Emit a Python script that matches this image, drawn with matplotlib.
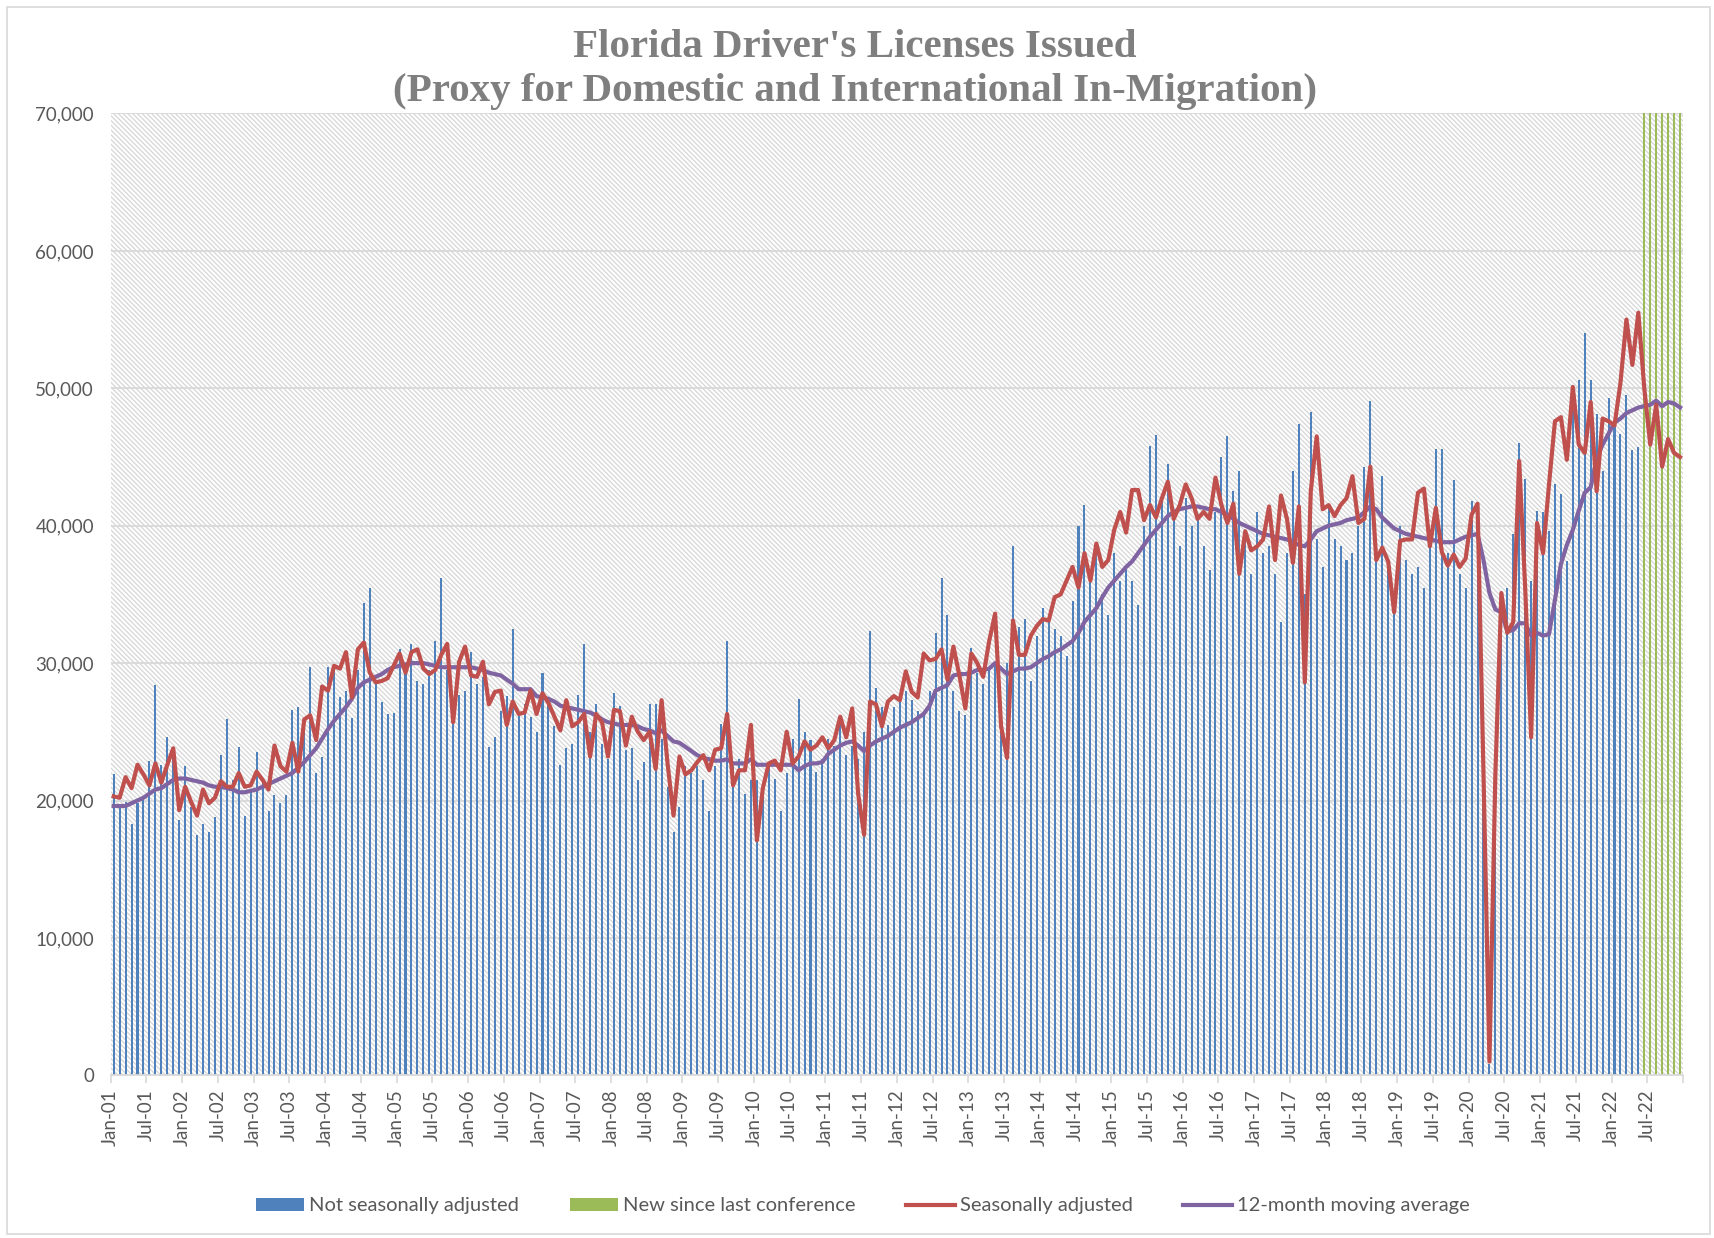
import matplotlib
matplotlib.use("Agg")
import matplotlib.pyplot as plt
from matplotlib.patches import Rectangle, Patch
from matplotlib.lines import Line2D
from matplotlib.ticker import FuncFormatter
import numpy as np

# ---------------- data (thousands) ----------------
years = list(range(2001, 2023))
months = ["Jan", "Feb", "Mar", "Apr", "May", "Jun", "Jul", "Aug", "Sep", "Oct", "Nov", "Dec"]

# Not seasonally adjusted (Jan-01 .. May-22)
nsa_k = [
    21.9, 19.5, 19.9, 18.3, 19.8, 20.3, 22.9, 28.4, 22.6, 24.6, 23.8, 18.6,
    22.5, 19.5, 17.5, 18.3, 17.7, 18.8, 23.3, 25.9, 21.5, 23.9, 18.9, 20.8,
    23.5, 21.5, 19.2, 20.4, 19.8, 20.4, 26.6, 26.8, 25.9, 29.7, 22.0, 23.2,
    29.7, 29.9, 27.5, 28.0, 26.0, 29.5, 34.4, 35.5, 28.7, 27.2, 26.3, 26.4,
    31.0, 30.0, 31.4, 28.7, 28.5, 29.5, 31.6, 36.2, 29.5, 25.6, 27.7, 28.0,
    30.8, 28.5, 29.0, 23.9, 24.6, 26.5, 27.6, 32.5, 26.2, 27.0, 26.1, 25.0,
    29.3, 27.5, 25.4, 22.6, 23.8, 24.1, 27.7, 31.4, 25.0, 27.0, 24.1, 23.0,
    27.8, 26.9, 23.7, 23.8, 21.5, 22.8, 27.0, 27.0, 24.5, 21.0, 17.7, 19.5,
    22.5, 22.0, 22.5, 21.5, 19.2, 22.5, 25.6, 31.6, 22.5, 23.0, 20.5, 21.5,
    21.5, 20.5, 22.5, 21.6, 19.2, 22.0, 24.5, 27.4, 25.0, 24.4, 22.1, 23.0,
    24.5, 24.0, 25.5, 23.3, 24.0, 23.0, 25.0, 32.3, 28.2, 26.8, 25.5, 26.8,
    27.5, 28.0, 27.3, 26.5, 26.2, 28.0, 32.2, 36.2, 33.5, 28.0, 26.5, 26.2,
    31.1, 29.3, 28.5, 29.5, 30.0, 25.1, 30.0, 38.5, 32.6, 33.2, 28.7, 32.0,
    34.0, 33.0, 32.5, 32.0, 30.5, 34.5, 40.0, 41.5, 36.0, 38.0, 35.0, 33.5,
    38.0, 36.0, 37.0, 36.0, 34.2, 40.0, 45.8, 46.6, 42.0, 44.5, 41.0, 38.5,
    42.0, 40.0, 40.5, 38.5, 36.8, 41.0, 45.0, 46.5, 42.5, 44.0, 39.0, 36.5,
    41.0, 38.0, 38.5, 36.5, 33.0, 38.0, 44.0, 47.4, 35.0, 48.3, 39.0, 37.0,
    41.5, 39.0, 38.5, 37.5, 38.0, 40.0, 44.3, 49.1, 39.0, 43.6, 37.5, 34.5,
    40.0, 37.5, 36.5, 37.0, 35.5, 38.5, 45.6, 45.6, 38.0, 43.3, 36.5, 35.5,
    41.8, 38.5, 25.0, 0.8, 17.0, 33.0, 35.5, 39.4, 46.0, 43.4, 36.0, 41.1,
    41.0, 39.6, 43.0, 42.3, 37.4, 50.2, 50.6, 54.0, 50.6, 48.1, 44.0, 49.3,
    47.2, 46.7, 49.5, 45.5, 45.7,
]

# Seasonally adjusted (Jan-01 .. Dec-22)
sa_k = [
    20.3, 20.2, 21.7, 20.9, 22.6, 21.9, 21.1, 22.7, 21.3, 22.6, 23.8, 19.3,
    21.0, 19.9, 18.9, 20.8, 19.8, 20.2, 21.4, 21.0, 21.0, 22.0, 21.0, 21.1,
    22.1, 21.5, 20.8, 24.0, 22.5, 22.1, 24.2, 22.1, 25.9, 26.2, 24.4, 28.3,
    28.0, 29.8, 29.6, 30.8, 27.5, 31.0, 31.5, 29.3, 28.6, 28.7, 28.9, 29.8,
    30.7, 29.3, 30.8, 31.0, 29.6, 29.2, 29.5, 30.6, 31.4, 25.7, 30.1, 31.2,
    29.1, 29.0, 30.1, 27.0, 27.9, 28.0, 25.5, 27.2, 26.3, 26.4, 28.0, 26.3,
    27.8, 27.1, 26.1, 25.1, 27.3, 25.4, 25.7, 26.3, 23.2, 26.3, 25.7, 23.2,
    26.6, 26.5, 24.0, 26.1, 25.0, 24.4, 25.0, 22.3, 27.3, 22.7, 18.9, 23.2,
    21.9, 22.2, 22.8, 23.3, 22.2, 23.7, 23.8, 26.3, 21.1, 22.2, 22.2, 25.5,
    17.1, 20.9, 22.7, 22.9, 22.2, 25.0, 22.7, 23.2, 24.3, 23.7, 24.0, 24.6,
    23.8, 24.4, 26.1, 24.6, 26.7, 20.5, 17.5, 27.2, 27.0, 25.4, 27.2, 27.6,
    27.3, 29.4, 27.9, 27.5, 30.7, 30.2, 30.3, 31.0, 28.8, 31.2, 29.1, 26.7,
    30.7, 30.0, 29.0, 31.6, 33.6, 25.4, 23.1, 33.1, 30.6, 30.6, 32.0, 32.7,
    33.2, 33.1, 34.8, 35.0, 36.0, 37.0, 35.5, 38.0, 36.0, 38.7, 37.0, 37.5,
    39.7, 41.0, 39.5, 42.6, 42.6, 40.4, 41.5, 40.6, 42.0, 43.2, 40.5, 41.5,
    43.0, 42.0, 40.5, 41.0, 40.5, 43.5, 41.5, 40.2, 41.6, 36.5, 39.6, 38.2,
    38.5, 39.0, 41.4, 37.5, 42.2, 40.5, 37.3, 41.4, 28.6, 42.5, 46.5, 41.2,
    41.5, 40.7, 41.5, 42.0, 43.6, 40.2, 40.5, 44.3, 37.5, 38.4, 37.4, 33.7,
    38.9, 39.0, 39.0, 42.4, 42.7, 38.5, 41.3, 38.1, 37.1, 37.9, 37.0, 37.6,
    40.8, 41.6, 22.0, 1.0, 22.0, 35.1, 32.2, 33.0, 44.7, 35.5, 24.6, 40.2,
    38.0, 43.0, 47.6, 47.9, 44.8, 50.1, 45.9, 45.3, 49.0, 42.5, 47.8, 47.6,
    47.3, 50.4, 55.0, 51.7, 55.5, 50.0, 45.9, 48.8, 44.3, 46.3, 45.3, 45.0,
]

# 12-month moving average (Jan-01 .. Dec-22)
ma_k = [
    19.6, 19.6, 19.6, 19.8, 20.0, 20.2, 20.5, 20.8, 20.9, 21.2, 21.5, 21.6,
    21.6, 21.5, 21.4, 21.3, 21.1, 21.0, 21.0, 20.9, 20.8, 20.6, 20.6, 20.7,
    20.8, 21.0, 21.2, 21.4, 21.6, 21.8, 22.0, 22.4, 22.8, 23.3, 23.8, 24.5,
    25.2, 25.8, 26.3, 26.8, 27.4, 28.2, 28.6, 28.8, 29.0, 29.2, 29.5, 29.7,
    29.8, 29.9, 30.0, 30.0, 30.0, 29.9, 29.8, 29.7, 29.7, 29.7, 29.7, 29.7,
    29.7, 29.6, 29.5, 29.3, 29.2, 29.1, 28.8, 28.5, 28.1, 28.1, 28.1, 27.6,
    27.5, 27.4, 27.2, 26.9, 26.8, 26.7, 26.6, 26.5, 26.4, 26.2, 25.9, 25.7,
    25.6, 25.5, 25.5, 25.5, 25.4, 25.2, 25.1, 24.9, 25.1, 24.7, 24.3, 24.2,
    23.9, 23.6, 23.3, 23.1, 23.0, 22.9, 22.9, 23.0, 22.7, 22.7, 22.7, 23.0,
    22.6, 22.6, 22.6, 22.6, 22.6, 22.6, 22.6, 22.2, 22.5, 22.7, 22.7, 22.8,
    23.4, 23.7, 24.0, 24.2, 24.3, 24.0, 23.6, 24.0, 24.3, 24.5, 24.7, 25.0,
    25.3, 25.5, 25.7, 26.0, 26.3, 26.9, 28.0, 28.2, 28.4, 29.1, 29.2, 29.2,
    29.3, 29.5, 29.5, 29.6, 30.0, 29.6, 29.2, 29.4, 29.6, 29.6, 29.7, 30.0,
    30.3, 30.5, 30.8, 31.0, 31.3, 31.6, 32.2, 33.0, 33.5, 34.0, 34.8, 35.5,
    36.0, 36.5, 37.0, 37.4, 38.0, 38.6, 39.2, 39.7, 40.2, 40.7, 41.0, 41.2,
    41.3, 41.4, 41.4, 41.3, 41.2, 41.2, 41.0, 40.8, 40.5, 40.2, 40.0, 39.8,
    39.6, 39.4, 39.3, 39.2, 39.1, 39.0, 38.8, 38.6, 38.5, 39.0, 39.6, 39.8,
    40.0, 40.1, 40.2, 40.4, 40.5, 40.6, 41.0, 41.4, 41.2, 40.6, 40.2, 39.8,
    39.6, 39.4, 39.3, 39.2, 39.1, 39.0, 38.9, 38.8, 38.8, 38.8, 39.0, 39.2,
    39.3, 39.4, 37.5, 35.1, 33.9, 33.7, 32.3, 32.4, 32.9, 32.9, 32.0, 32.2,
    32.0, 32.1, 34.6, 37.2, 38.6, 39.7, 41.1, 42.4, 42.8, 44.9, 45.9, 46.7,
    47.5, 47.8, 48.2, 48.4, 48.6, 48.7, 48.8, 49.1, 48.7, 49.0, 48.9, 48.6,
]

# "New since last conference" highlight (Jun-22 .. Dec-22), full-height bars
new_start_index = 257
new_value = 70000

title_lines = ["Florida Driver's Licenses Issued",
               "(Proxy for Domestic and International In-Migration)"]
legend_labels = ["Not seasonally adjusted", "New since last conference",
                 "Seasonally adjusted", "12-month moving average"]

# ---------------- figure ----------------
BLUE = "#4f81bd"
GREEN = "#9bbb59"
RED = "#c0504d"
PURPLE = "#8064a2"
GRID = "#d9d9d9"
TXT = "#595959"

plt.rcParams["hatch.linewidth"] = 0.9
fig = plt.figure(figsize=(17.15, 12.38), dpi=100)
fig.patch.set_facecolor("white")
fig.add_artist(Rectangle((0.004, 0.003), 0.993, 0.991, transform=fig.transFigure,
                         fill=False, edgecolor=GRID, linewidth=1.2))

ax = fig.add_axes([0.06455, 0.13142, 0.98134 - 0.06455, 0.90832 - 0.13142])
ax.set_facecolor("white")
ax.add_patch(Rectangle((0, 0), 1, 1, transform=ax.transAxes, facecolor="white",
                       edgecolor="#d6d6d6", hatch="\\\\\\\\\\\\\\", linewidth=0, zorder=0))

n_total = len(sa_k)
x_all = np.arange(n_total)
nsa = np.array(nsa_k) * 1000
sa = np.array(sa_k) * 1000
ma = np.array(ma_k) * 1000

for yv in range(10000, 70001, 10000):
    ax.axhline(yv, color=GRID, lw=1.3, zorder=1)

ax.bar(np.arange(len(nsa)), nsa, width=0.34, color=BLUE, zorder=2, linewidth=0)
x_new = np.arange(new_start_index, n_total)
ax.bar(x_new, [new_value] * len(x_new), width=0.34, color=GREEN, zorder=2, linewidth=0)
ax.plot(x_all, sa, color=RED, lw=3.0, zorder=4, solid_joinstyle="round")
ax.plot(x_all, ma, color=PURPLE, lw=3.0, zorder=3, solid_joinstyle="round")

ax.set_xlim(-0.5, n_total - 0.5)
ax.set_ylim(0, 70000)

tick_pos = [-0.5 + 6 * k for k in range(n_total // 6 + 1)]
tick_lab = []
for k in range(len(tick_pos)):
    idx = 6 * k
    if idx < n_total:
        tick_lab.append(f"{months[idx % 12]}-{(years[0] + idx // 12) % 100:02d}")
    else:
        tick_lab.append("")
ax.set_xticks(tick_pos)
ax.set_xticklabels(tick_lab, rotation=90, fontsize=13.5, color=TXT, family="Lato")
ax.tick_params(axis="x", length=6, width=1.2, color=GRID, pad=4)

ax.set_yticks(range(0, 70001, 10000))
ax.yaxis.set_major_formatter(FuncFormatter(lambda v, p: f"{int(v):,}"))
ax.tick_params(axis="y", length=0, pad=12, labelsize=13.5, labelcolor=TXT)
for lab in ax.get_yticklabels():
    lab.set_family("Lato")

for s in ["top", "right", "left"]:
    ax.spines[s].set_visible(False)
ax.spines["bottom"].set_color(GRID)
ax.spines["bottom"].set_linewidth(1.3)
ax.spines["bottom"].set_zorder(5)

fig.text(0.4985, 1 - 57 / 1238, title_lines[0], ha="center", va="baseline",
         fontsize=29.5, fontweight="bold", color="#7f7f7f", family="Liberation Serif")
fig.text(0.4985, 1 - 100.5 / 1238, title_lines[1], ha="center", va="baseline",
         fontsize=29.5, fontweight="bold", color="#7f7f7f", family="Liberation Serif")

handles = [Patch(facecolor=BLUE, edgecolor="none"),
           Patch(facecolor=GREEN, edgecolor="none"),
           Line2D([0], [0], color=RED, lw=3),
           Line2D([0], [0], color=PURPLE, lw=3)]
leg = fig.legend(handles, legend_labels, loc="center", bbox_to_anchor=(0.503, 0.026),
                 ncol=4, frameon=False, handlelength=2.4, handleheight=0.6,
                 columnspacing=2.5, handletextpad=0.27,
                 prop={"family": "Lato", "size": 14.5})
for t in leg.get_texts():
    t.set_color(TXT)

fig.savefig("out.png", dpi=100, facecolor="white")
